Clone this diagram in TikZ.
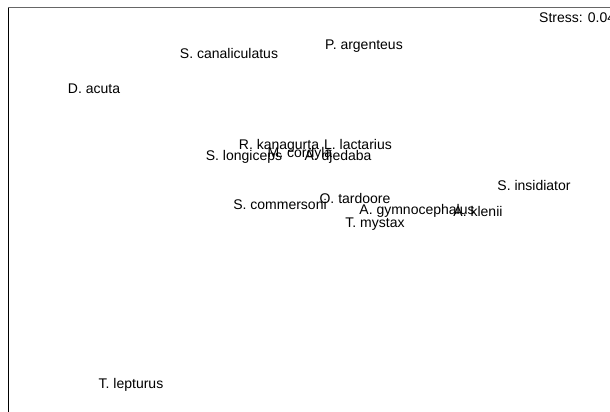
\documentclass[tikz,border=0pt]{standalone}
\usepackage{fontspec}
\setmainfont{Liberation Sans}

\tikzset{
    species/.style={inner sep=0pt, font=\fontsize{14}{16}\selectfont},
}

\begin{document}
\begin{tikzpicture}[x=1pt,y=-1pt]

    \useasboundingbox (0,0) rectangle (610,412);
    \clip (0,0) rectangle (610,412);
    % cadre
    \draw[gray!80!black, line width=1pt] (8,8) -- (612,8);
    \draw[black, line width=1pt] (8,8) -- (8,414);
    \node[species, anchor=west] (stress) at (539,18) {Stress: 0.04};
    % especes
    \foreach \n/\x/\y/\t in {
        canal/229/53/{S. canaliculatus},
        argent/364/46/{P. argenteus},
        acuta/94/89/{D. acuta},
        kanag/279/146/{R. kanagurta},
        lact/358/144/{L. lactarius},
        longi/244/157/{S. longiceps},
        cordy/300/154/{M. cordyla},
        djed/338/157/{A. djedaba},
        tard/355/198/{O. tardoore},
        comm/280/204/{S. commersoni},
        gymno/417/211/{A. gymnocephalus},
        klen/478/211/{A. klenii},
        myst/375/224/{T. mystax},
        insid/534/185/{S. insidiator},
        lept/131/385/{T. lepturus}} {
        \node[species] (\n) at (\x,\y) {\t};
    }
\end{tikzpicture}
\end{document}
